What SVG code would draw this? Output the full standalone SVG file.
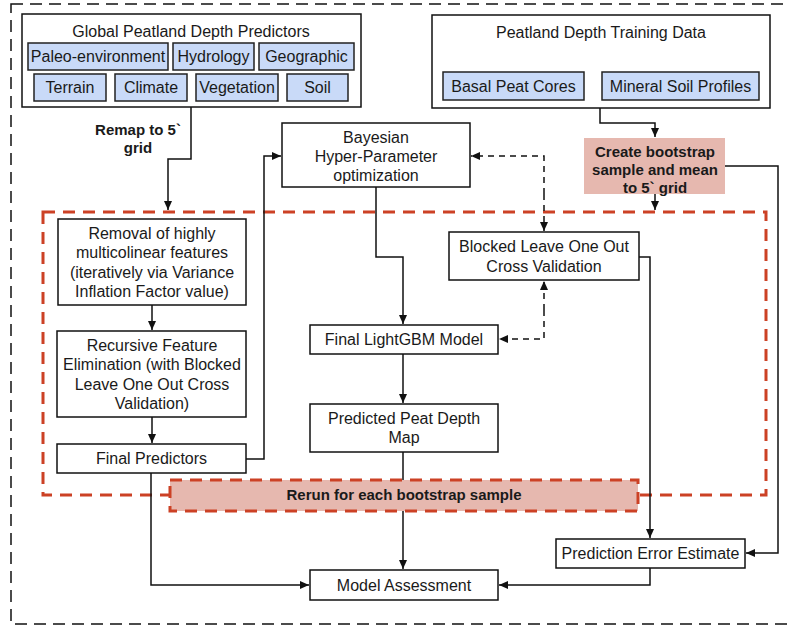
<svg xmlns="http://www.w3.org/2000/svg" width="787" height="627" viewBox="0 0 787 627">
<defs>
<marker id="ah" markerUnits="userSpaceOnUse" markerWidth="10" markerHeight="10" refX="9" refY="5" orient="auto">
<path d="M0,1 L9,5 L0,9 Z" fill="#111"/>
</marker>
<style>
.box{fill:#fff;stroke:#111;stroke-width:1.5}
.chip{fill:#c9daf8;stroke:#222;stroke-width:1.5}
.t{font-family:"Liberation Sans",Arial,sans-serif;font-size:16px;fill:#1a1a1a;text-anchor:middle;dominant-baseline:central}
.b{font-family:"Liberation Sans",Arial,sans-serif;font-size:15px;font-weight:bold;fill:#1a1a1a;text-anchor:middle;dominant-baseline:central}
.c{fill:none;stroke:#111;stroke-width:1.5}
.d{fill:none;stroke:#111;stroke-width:1.5;stroke-dasharray:6 5}
.red{fill:none;stroke:#cc4125;stroke-width:3;stroke-dasharray:12 8}
</style>
</defs>
<rect x="11" y="4" width="800" height="620" fill="none" stroke="#111" stroke-width="1.5" stroke-dasharray="12 7"/>
<rect x="43" y="212" width="723" height="283" class="red"/>
<g id="connectors">
<path class="c" d="M191,107 V159 H168 V210" marker-end="url(#ah)"/>
<path class="c" d="M600,108 V123 H655 V137" marker-end="url(#ah)"/>
<path class="c" d="M655,194 V210" marker-end="url(#ah)"/>
<path class="c" d="M725,166 H778 V553 H746" marker-end="url(#ah)"/>
<path class="d" d="M544,194 V156 H471" marker-end="url(#ah)"/>
<path class="d" d="M544,194 V231" marker-end="url(#ah)"/>
<path class="c" d="M376,187 V257 H403 V324" marker-end="url(#ah)"/>
<path class="d" d="M544,310 V339 H499" marker-end="url(#ah)"/>
<path class="d" d="M544,310 V281" marker-end="url(#ah)"/>
<path class="c" d="M152,305 V330" marker-end="url(#ah)"/>
<path class="c" d="M152,417 V443" marker-end="url(#ah)"/>
<path class="c" d="M246,459 H264 V156 H281" marker-end="url(#ah)"/>
<path class="c" d="M403,354 V403" marker-end="url(#ah)"/>
<path class="c" d="M403,452 V569" marker-end="url(#ah)"/>
<path class="c" d="M151,473 V585 H309" marker-end="url(#ah)"/>
<path class="c" d="M639,257 H650 V538" marker-end="url(#ah)"/>
<path class="c" d="M650,568 V585 H499" marker-end="url(#ah)"/>
</g>
<g id="rerun">
<rect x="170" y="480" width="468" height="31" fill="#e6b8af" stroke="#cc4125" stroke-width="3" stroke-dasharray="12 8"/>
<text class="b" x="404" y="494">Rerun for each bootstrap sample</text>
</g>
<g id="global-predictors">
<rect class="box" x="22" y="14" width="339" height="93"/>
<text class="t" x="191" y="31">Global Peatland Depth Predictors</text>
<rect class="chip" x="28" y="43" width="140" height="27"/>
<text class="t" x="98" y="56.5">Paleo-environment</text>
<rect class="chip" x="173" y="43" width="81" height="27"/>
<text class="t" x="213.5" y="56.5">Hydrology</text>
<rect class="chip" x="259" y="43" width="95" height="27"/>
<text class="t" x="306.5" y="56.5">Geographic</text>
<rect class="chip" x="34" y="74" width="72" height="27"/>
<text class="t" x="70" y="87.5">Terrain</text>
<rect class="chip" x="115" y="74" width="72" height="27"/>
<text class="t" x="151" y="87.5">Climate</text>
<rect class="chip" x="196" y="74" width="82" height="27"/>
<text class="t" x="237" y="87.5">Vegetation</text>
<rect class="chip" x="287" y="74" width="61" height="27"/>
<text class="t" x="317.5" y="87.5">Soil</text>
</g>
<g id="remap-label">
<text class="b" x="138" y="129">Remap to 5`</text>
<text class="b" x="138" y="147">grid</text>
</g>
<g id="training-data">
<rect class="box" x="432" y="15" width="338" height="93"/>
<text class="t" x="601" y="32">Peatland Depth Training Data</text>
<rect class="chip" x="443" y="72" width="141" height="28"/>
<text class="t" x="513.5" y="86">Basal Peat Cores</text>
<rect class="chip" x="602" y="72" width="157" height="28"/>
<text class="t" x="680.5" y="86">Mineral Soil Profiles</text>
</g>
<g id="bootstrap">
<rect x="584" y="138" width="141" height="56" fill="#e6b8af"/>
<text class="b" x="655" y="151">Create bootstrap</text>
<text class="b" x="655" y="169">sample and mean</text>
<text class="b" x="655" y="187">to 5` grid</text>
</g>
<g id="bayesian">
<rect class="box" x="282" y="123" width="188" height="64"/>
<text class="t" x="376" y="137">Bayesian</text>
<text class="t" x="376" y="156">Hyper-Parameter</text>
<text class="t" x="376" y="175">optimization</text>
</g>
<g id="removal">
<rect class="box" x="58" y="219" width="188" height="86"/>
<text class="t" x="152" y="233">Removal of highly</text>
<text class="t" x="152" y="252.5">multicolinear features</text>
<text class="t" x="152" y="272">(iteratively via Variance</text>
<text class="t" x="152" y="291.5">Inflation Factor value)</text>
</g>
<g id="rfe">
<rect class="box" x="57" y="331" width="189" height="86"/>
<text class="t" x="152" y="345">Recursive Feature</text>
<text class="t" x="152" y="364.5">Elimination (with Blocked</text>
<text class="t" x="152" y="384">Leave One Out Cross</text>
<text class="t" x="152" y="403">Validation)</text>
</g>
<g id="final-predictors">
<rect class="box" x="57" y="444" width="189" height="29"/>
<text class="t" x="151.5" y="458.5">Final Predictors</text>
</g>
<g id="bloocv">
<rect class="box" x="449" y="232" width="190" height="48"/>
<text class="t" x="544" y="246">Blocked Leave One Out</text>
<text class="t" x="544" y="266">Cross Validation</text>
</g>
<g id="lightgbm">
<rect class="box" x="310" y="325" width="188" height="29"/>
<text class="t" x="404" y="339">Final LightGBM Model</text>
</g>
<g id="predicted-map">
<rect class="box" x="310" y="404" width="188" height="48"/>
<text class="t" x="404" y="418">Predicted Peat Depth</text>
<text class="t" x="404" y="437">Map</text>
</g>
<g id="prediction-error">
<rect class="box" x="556" y="539" width="189" height="29"/>
<text class="t" x="650.5" y="553">Prediction Error Estimate</text>
</g>
<g id="model-assessment">
<rect class="box" x="310" y="570" width="188" height="30"/>
<text class="t" x="404" y="585">Model Assessment</text>
</g>
</svg>
